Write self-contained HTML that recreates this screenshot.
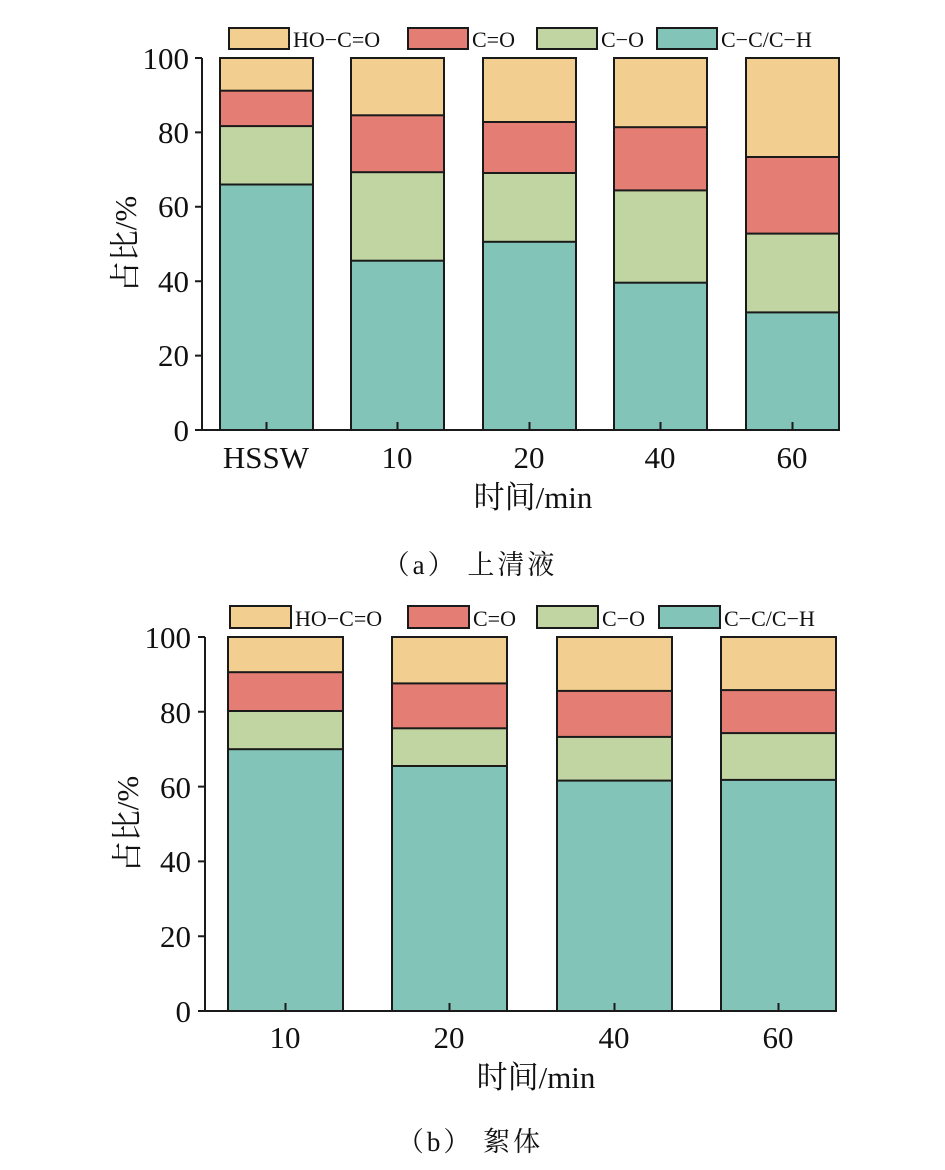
<!DOCTYPE html>
<html><head><meta charset="utf-8"><style>body{margin:0;background:#fff}svg{display:block}</style></head>
<body>
<svg width="945" height="1170" xmlns="http://www.w3.org/2000/svg" font-family="'Liberation Serif','Noto Serif CJK SC',serif">
<g stroke="#1a1a1a" stroke-width="2">
<rect x="229" y="28" width="60" height="21" fill="#F2CE91"/>
<rect x="408" y="28" width="60" height="21" fill="#E47D74"/>
<rect x="537" y="28" width="60" height="21" fill="#C1D5A2"/>
<rect x="657" y="28" width="60" height="21" fill="#82C4B7"/>
<rect x="220" y="58" width="93" height="372" fill="#F2CE91"/>
<rect x="220" y="90.7" width="93" height="339.3" fill="#E47D74"/>
<rect x="220" y="126.1" width="93" height="303.9" fill="#C1D5A2"/>
<rect x="220" y="184.5" width="93" height="245.5" fill="#82C4B7"/>
<rect x="351" y="58" width="93" height="372" fill="#F2CE91"/>
<rect x="351" y="115.3" width="93" height="314.7" fill="#E47D74"/>
<rect x="351" y="172.2" width="93" height="257.8" fill="#C1D5A2"/>
<rect x="351" y="260.7" width="93" height="169.3" fill="#82C4B7"/>
<rect x="483" y="58" width="93" height="372" fill="#F2CE91"/>
<rect x="483" y="122" width="93" height="308" fill="#E47D74"/>
<rect x="483" y="173" width="93" height="257" fill="#C1D5A2"/>
<rect x="483" y="241.8" width="93" height="188.2" fill="#82C4B7"/>
<rect x="614" y="58" width="93" height="372" fill="#F2CE91"/>
<rect x="614" y="127.2" width="93" height="302.8" fill="#E47D74"/>
<rect x="614" y="190.4" width="93" height="239.6" fill="#C1D5A2"/>
<rect x="614" y="282.7" width="93" height="147.3" fill="#82C4B7"/>
<rect x="746" y="58" width="93" height="372" fill="#F2CE91"/>
<rect x="746" y="157" width="93" height="273" fill="#E47D74"/>
<rect x="746" y="233.6" width="93" height="196.4" fill="#C1D5A2"/>
<rect x="746" y="312.4" width="93" height="117.6" fill="#82C4B7"/>
<path fill="none" d="M202 58V430H839M195 58H202M195 132.4H202M195 206.8H202M195 281.2H202M195 355.6H202M195 430H202M266.5 430V422M397.5 430V422M529.5 430V422M660.5 430V422M792.5 430V422"/>
<rect x="230" y="606" width="61" height="22" fill="#F2CE91"/>
<rect x="408" y="606" width="61" height="22" fill="#E47D74"/>
<rect x="537" y="606" width="61" height="22" fill="#C1D5A2"/>
<rect x="659" y="606" width="61" height="22" fill="#82C4B7"/>
<rect x="228" y="637" width="115" height="374" fill="#F2CE91"/>
<rect x="228" y="672.2" width="115" height="338.8" fill="#E47D74"/>
<rect x="228" y="711" width="115" height="300" fill="#C1D5A2"/>
<rect x="228" y="749.2" width="115" height="261.8" fill="#82C4B7"/>
<rect x="392" y="637" width="115" height="374" fill="#F2CE91"/>
<rect x="392" y="683.4" width="115" height="327.6" fill="#E47D74"/>
<rect x="392" y="728.3" width="115" height="282.7" fill="#C1D5A2"/>
<rect x="392" y="766" width="115" height="245" fill="#82C4B7"/>
<rect x="557" y="637" width="115" height="374" fill="#F2CE91"/>
<rect x="557" y="690.9" width="115" height="320.1" fill="#E47D74"/>
<rect x="557" y="736.9" width="115" height="274.1" fill="#C1D5A2"/>
<rect x="557" y="780.6" width="115" height="230.4" fill="#82C4B7"/>
<rect x="721" y="637" width="115" height="374" fill="#F2CE91"/>
<rect x="721" y="690.1" width="115" height="320.9" fill="#E47D74"/>
<rect x="721" y="733.1" width="115" height="277.9" fill="#C1D5A2"/>
<rect x="721" y="779.9" width="115" height="231.1" fill="#82C4B7"/>
<path fill="none" d="M205 637V1011H837M198 637H205M198 711.8H205M198 786.6H205M198 861.4H205M198 936.2H205M198 1011H205M285.5 1011V1003M449.5 1011V1003M614.5 1011V1003M778.5 1011V1003"/>
</g>
<g fill="#111" font-size="22">
<text x="293" y="47">HO−C=O</text><text x="472" y="47">C=O</text><text x="601" y="47">C−O</text><text x="721" y="47">C−C/C−H</text>
<text x="295" y="626">HO−C=O</text><text x="473" y="626">C=O</text><text x="602" y="626">C−O</text><text x="724" y="626">C−C/C−H</text>
</g>
<g fill="#111" font-size="31" text-anchor="end">
<text x="189" y="69">100</text><text x="189" y="143">80</text><text x="189" y="217">60</text><text x="189" y="292">40</text><text x="189" y="366">20</text><text x="189" y="441">0</text>
<text x="191" y="648">100</text><text x="191" y="723">80</text><text x="191" y="798">60</text><text x="191" y="872">40</text><text x="191" y="947">20</text><text x="191" y="1022">0</text>
</g>
<g fill="#111" font-size="31" text-anchor="middle">
<text x="266" y="468">HSSW</text><text x="397" y="468">10</text><text x="529" y="468">20</text><text x="660" y="468">40</text><text x="792" y="468">60</text>
<text x="285" y="1048">10</text><text x="449" y="1048">20</text><text x="614" y="1048">40</text><text x="778" y="1048">60</text>
<text x="533" y="508">时间/min</text>
<text x="536" y="1088">时间/min</text>
<text transform="translate(136,244) rotate(-90)">占比/%</text>
<text transform="translate(138,824) rotate(-90)">占比/%</text>
</g>
<g fill="#111" font-size="27" text-anchor="middle" letter-spacing="3">
<text x="470" y="574">（a） 上清液</text>
<text x="470" y="1151">（b） 絮体</text>
</g>
</svg>
</body></html>
